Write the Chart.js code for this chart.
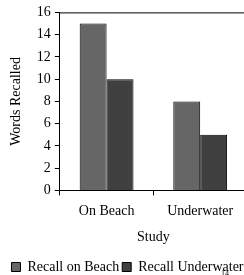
<!DOCTYPE html>
<html>
<head>
<meta charset="utf-8">
<script src="https://cdn.jsdelivr.net/npm/chart.js@4.4.0/dist/chart.umd.min.js"></script>
<style>
  html, body { margin: 0; padding: 0; background: #fff; overflow: hidden; }
  #wrap { position: relative; width: 247px; height: 275px; }
</style>
</head>
<body>
<div id="wrap"><canvas id="chart"></canvas></div>
<script>
// data
const categories = ['On Beach', 'Underwater'];
const recallBeach = [15, 8];
const recallUnderwater = [10, 5];
const yTicks = [0, 2, 4, 6, 8, 10, 12, 14, 16];

const serif = "'Liberation Serif', 'Times New Roman', serif";

// linea superior del area del grafico
const topLine = {
    id: 'topLine',
    afterDraw(chart) {
        const { ctx, chartArea } = chart;
        ctx.save();
        ctx.strokeStyle = '#000';
        ctx.lineWidth = 1;
        ctx.beginPath();
        ctx.moveTo(chartArea.left, chartArea.top + 0.5);
        ctx.lineTo(chartArea.right, chartArea.top + 0.5);
        ctx.stroke();
        // numero de pagina
        ctx.fillStyle = '#000';
        ctx.font = "8px " + serif;
        ctx.textAlign = 'center';
        ctx.fillText('14', 225, 274);
        ctx.restore();
    }
};

const ctx = document.getElementById('chart').getContext('2d');
new Chart(ctx, {
    type: 'bar',
    data: {
        labels: categories,
        datasets: [
            { label: 'Recall on Beach', data: recallBeach, backgroundColor: '#666666', borderColor: '#000', borderWidth: 1 },
            { label: 'Recall Underwater', data: recallUnderwater, backgroundColor: '#404040', borderColor: '#000', borderWidth: 1 }
        ]
    },
    options: {
        responsive: true,
        maintainAspectRatio: false,
        animation: false,
        layout: { padding: { top: 6, left: 8, right: 0, bottom: -9 } },
        datasets: { bar: { categoryPercentage: 0.575, barPercentage: 1 } },
        scales: {
            x: {
                grid: { drawOnChartArea: false, color: '#000', tickLength: 5 },
                border: { color: '#000' },
                ticks: { color: '#000', font: { family: serif, size: 14 }, padding: 8 },
                title: { display: true, text: 'Study', color: '#000', font: { family: serif, size: 14 }, padding: { top: 1, bottom: 11 } }
            },
            y: {
                min: 0, max: 16,
                afterBuildTicks(axis) { axis.ticks = yTicks.map(v => ({ value: v })); },
                grid: { drawOnChartArea: false, color: '#000', tickLength: 5 },
                border: { color: '#000' },
                ticks: { color: '#000', font: { family: serif, size: 14 }, padding: 4 },
                title: { display: true, text: 'Words Recalled', color: '#000', font: { family: serif, size: 14 }, padding: { top: 0, bottom: 8 } }
            }
        },
        plugins: {
            legend: {
                position: 'bottom',
                labels: { color: '#000', font: { family: serif, size: 14 }, boxWidth: 9, boxHeight: 9, padding: 3 }
            },
            tooltip: { enabled: false }
        }
    },
    plugins: [topLine]
});
</script>
</body>
</html>
